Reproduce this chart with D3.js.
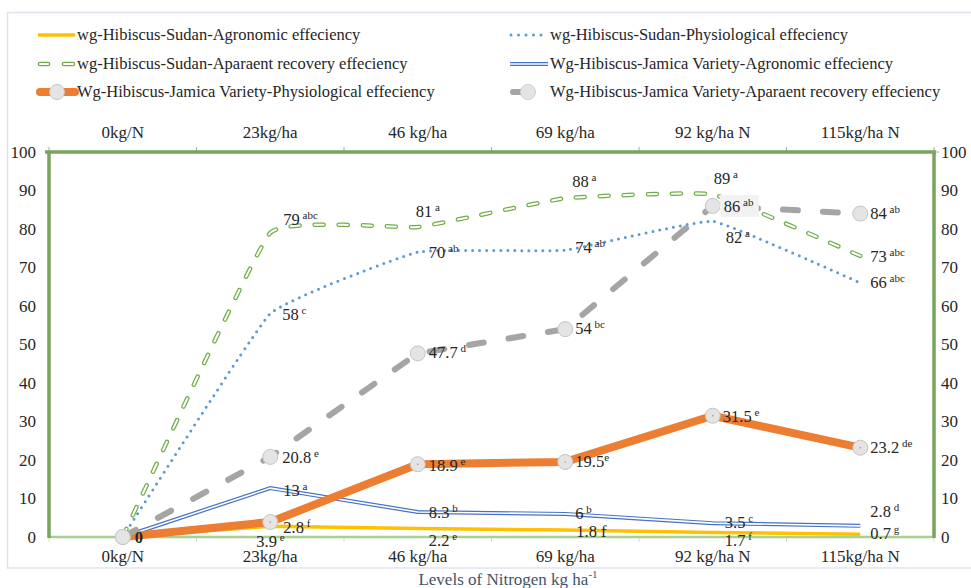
<!DOCTYPE html>
<html><head><meta charset="utf-8">
<script src="https://cdn.jsdelivr.net/npm/d3@7/dist/d3.min.js"></script>
<style>
html,body{margin:0;padding:0;background:#fff;}
svg{display:block;}
svg text{font-family:"Liberation Serif","DejaVu Serif",serif;}
</style></head>
<body>
<svg id="chart" width="971" height="588"></svg>
<script>
// ---------- DATA ----------
const categories = ["0kg/N", "23kg/ha", "46 kg/ha", "69 kg/ha", "92 kg/ha N", "115kg/ha N"];
const yTicks = [0, 10, 20, 30, 40, 50, 60, 70, 80, 90, 100];

const sudanAgronomic      = [0, 2.8, 2.2, 1.8, 1.2, 0.7];
const sudanPhysiological  = [0, 58, 74, 74.5, 82, 66];
const sudanRecovery       = [0, 79, 80.5, 88, 89, 73];
const jamicaAgronomic     = [0, 12.7, 6.5, 6, 3.6, 2.9];
const jamicaPhysiological = [0, 3.9, 18.9, 19.5, 31.5, 23.2];
const jamicaRecovery      = [0, 20.8, 47.7, 54, 86, 84];

// data labels: [number, letters]
const sudanAgronomicLabels      = [null, ["2.8","f"], ["2.2","e"], ["1.8 f",""], ["1.7","f"], ["0.7","g"]];
const sudanPhysiologicalLabels  = [null, ["58","c"], ["70","ab"], ["74","ab"], ["82","a"], ["66","abc"]];
const sudanRecoveryLabels       = [null, ["79","abc"], ["81","a"], ["88","a"], ["89","a"], ["73","abc"]];
const jamicaAgronomicLabels     = [null, ["13","a"], ["8.3","b"], ["6","b"], ["3.5","c"], ["2.8","d"]];
const jamicaPhysiologicalLabels = [["0",""], ["3.9","e"], ["18.9","e"], ["19.5","e"], ["31.5","e"], ["23.2","de"]];
const jamicaRecoveryLabels      = [null, ["20.8","e"], ["47.7","d"], ["54","bc"], ["86","ab"], ["84","ab"]];

const seriesNames = [
  "wg-Hibiscus-Sudan-Agronomic effeciency",
  "wg-Hibiscus-Sudan-Physiological effeciency",
  "wg-Hibiscus-Sudan-Aparaent recovery effeciency",
  "Wg-Hibiscus-Jamica Variety-Agronomic effeciency",
  "Wg-Hibiscus-Jamica Variety-Physiological effeciency",
  "Wg-Hibiscus-Jamica Variety-Aparaent recovery effeciency"
];
const xTitle = "Levels of Nitrogen kg ha";

// ---------- LAYOUT / STYLE ----------
const FONT = '"Liberation Serif","DejaVu Serif",serif';
const svg = d3.select("#chart");
const P = {left: 49, right: 934, top: 152, bottom: 537};
const x = d3.scaleBand().domain(categories).range([P.left, P.right]);
const cx = c => x(c) + x.bandwidth() / 2;
const y = d3.scaleLinear().domain([0, 100]).range([P.bottom, P.top]);
const axisGreen = "#77a55a";
const textCol = "#262626";

// chart-area border
svg.append("rect").attr("x", 7.5).attr("y", 12.5).attr("width", 990).attr("height", 555.5)
  .attr("fill", "none").attr("stroke", "#dfe4ec").attr("stroke-width", 1.5);

function styleAxis(g) {
  g.attr("font-family", FONT);
  g.select(".domain").remove();
  g.selectAll("text").attr("font-size", 17).attr("fill", textCol).attr("font-family", FONT);
}
// bottom axis (categories)
svg.append("g").attr("transform", `translate(0,${P.bottom})`)
  .call(d3.axisBottom(x).tickSize(0).tickPadding(13)).call(styleAxis);
svg.append("g").selectAll("line").data(d3.range(categories.length + 1)).join("line")
  .attr("x1", i => P.left + i * x.bandwidth()).attr("x2", i => P.left + i * x.bandwidth())
  .attr("y1", P.bottom).attr("y2", P.bottom + 5).attr("stroke", "#d9d9d9").attr("stroke-width", 1);

// top axis (categories)
svg.append("g").attr("transform", `translate(0,${P.top})`)
  .call(d3.axisTop(x).tickSize(0).tickPadding(14)).call(styleAxis);
svg.append("g").selectAll("line").data(d3.range(categories.length + 1)).join("line")
  .attr("x1", i => P.left + i * x.bandwidth()).attr("x2", i => P.left + i * x.bandwidth())
  .attr("y1", P.top).attr("y2", P.top - 5).attr("stroke", "#a6a6a6").attr("stroke-width", 1);

// left / right axes
svg.append("g").attr("transform", `translate(${P.left},0)`)
  .call(d3.axisLeft(y).tickValues(yTicks).tickSize(0).tickPadding(13)).call(styleAxis);
svg.append("g").attr("transform", `translate(${P.right},0)`)
  .call(d3.axisRight(y).tickValues(yTicks).tickSize(0).tickPadding(7)).call(styleAxis);

// frame lines
svg.append("line").attr("x1", P.left).attr("x2", P.right).attr("y1", P.bottom).attr("y2", P.bottom)
  .attr("stroke", "#a9d08e").attr("stroke-width", 2.5);
svg.append("line").attr("x1", P.left - 4).attr("x2", P.right + 2).attr("y1", P.top).attr("y2", P.top)
  .attr("stroke", axisGreen).attr("stroke-width", 3.5);
svg.append("line").attr("x1", P.left).attr("x2", P.left).attr("y1", P.top).attr("y2", P.bottom + 1)
  .attr("stroke", axisGreen).attr("stroke-width", 3.5);
svg.append("line").attr("x1", P.right).attr("x2", P.right).attr("y1", P.top).attr("y2", P.bottom + 1)
  .attr("stroke", axisGreen).attr("stroke-width", 3.5);
svg.append("line").attr("x1", P.right).attr("x2", P.right + 5).attr("y1", P.top).attr("y2", P.top)
  .attr("stroke", "#a6a6a6").attr("stroke-width", 1);

// x title
const xt = svg.append("text").attr("x", 508).attr("y", 584.5).attr("text-anchor", "middle")
  .attr("font-size", 17).attr("fill", "#44546a").text(xTitle);
xt.append("tspan").attr("font-size", 11).attr("dy", -7).text("-1");

// ---------- SERIES ----------
const pts = vals => vals.map((v, i) => [cx(categories[i]), y(v)]);
const lineLin = d3.line();
const lineSmooth = d3.line().curve(d3.curveCardinal.tension(0.7));
const gS = svg.append("g");

// 1 Sudan agronomic (yellow)
gS.append("path").attr("d", lineLin(pts(sudanAgronomic))).attr("fill", "none")
  .attr("stroke", "#ffc000").attr("stroke-width", 3.5).attr("stroke-linejoin", "round");
// 2 Sudan physiological (blue dotted, smoothed)
gS.append("path").attr("d", lineSmooth(pts(sudanPhysiological))).attr("fill", "none")
  .attr("stroke", "#5b9bd5").attr("stroke-width", 3).attr("stroke-linecap", "round")
  .attr("stroke-dasharray", "0 7");
// 3 Sudan recovery (green hollow dashes, smoothed)
const dRec = lineSmooth(pts(sudanRecovery));
gS.append("path").attr("d", dRec).attr("fill", "none").attr("stroke", "#70ad47")
  .attr("stroke-width", 4.5).attr("stroke-linecap", "round").attr("stroke-dasharray", "9 15");
gS.append("path").attr("d", dRec).attr("fill", "none").attr("stroke", "#ffffff")
  .attr("stroke-width", 2).attr("stroke-linecap", "round").attr("stroke-dasharray", "9 15");
// 4 Jamica agronomic (blue double line)
const dJA = lineLin(pts(jamicaAgronomic));
gS.append("path").attr("d", dJA).attr("fill", "none").attr("stroke", "#4472c4").attr("stroke-width", 4);
gS.append("path").attr("d", dJA).attr("fill", "none").attr("stroke", "#ffffff").attr("stroke-width", 1.6);
// 5 Jamica physiological (orange thick + markers)
gS.append("path").attr("d", lineLin(pts(jamicaPhysiological))).attr("fill", "none")
  .attr("stroke", "#ed7d31").attr("stroke-width", 8).attr("stroke-linejoin", "round");
// 6 Jamica recovery (grey long dashes + markers)
gS.append("path").attr("d", lineLin(pts(jamicaRecovery))).attr("fill", "none")
  .attr("stroke", "#a5a5a5").attr("stroke-width", 6).attr("stroke-linecap", "round")
  .attr("stroke-dasharray", "15 25");

function markers(vals, dotColor) {
  const g = gS.append("g");
  g.selectAll("circle.m").data(pts(vals)).join("circle").attr("class", "m")
    .attr("cx", d => d[0]).attr("cy", d => d[1]).attr("r", 7.5)
    .attr("fill", "#e4e4e4").attr("stroke", "#c4c4c4").attr("stroke-width", 1);
  if (dotColor) g.selectAll("circle.d").data(pts(vals)).join("circle").attr("class", "d")
    .attr("cx", d => d[0]).attr("cy", d => d[1]).attr("r", 0.8).attr("fill", dotColor);
}
markers(jamicaPhysiological, "#ed7d31");
markers(jamicaRecovery, null);

// ---------- DATA LABELS ----------
// label offsets (text start, baseline) relative to each point
const labelOffsets = {
  sRec:  [null, [13,-8], [-2,-10], [7,-11], [1,-10], [10,6]],
  sPhy:  [null, [12,6], [11,6], [10,3], [13,22], [10,5]],
  jAgr:  [null, [13,8], [11,6], [10,5], [12,5], [10,-9]],
  sAgr:  [null, [13,7], [11,17], [11,7], [12,14], [10,5]],
  jPhy:  [[12,6], [-14,25], [11,7], [10,5], [10,6], [10,5]],
  jRec:  [null, [12,6], [11,5], [10,5], [11,6], [10,5]]
};
const gLab = svg.append("g").attr("fill", textCol);
function labels(vals, labs, offs, opts = {}) {
  const P2 = pts(vals);
  labs.forEach((lab, i) => {
    if (!lab) return;
    const [dx, dy] = offs[i];
    const tx = P2[i][0] + dx, ty = P2[i][1] + dy;
    if (opts.box && opts.box[i]) {
      gLab.append("rect").attr("x", tx - 4).attr("y", ty - 17).attr("width", 39).attr("height", 22)
        .attr("fill", "#f2f2f2");
    }
    const t = gLab.append("text").attr("x", tx).attr("y", ty).attr("font-size", 16.5);
    t.append("tspan").text(lab[0]).attr("font-weight", (opts.bold && opts.bold[i]) ? "bold" : null);
    if (lab[1]) {
      const sp = (opts.nospace && opts.nospace[i]) ? "" : " ";
      t.append("tspan").attr("font-size", 11).attr("dy", -6).text(sp + lab[1]);
    }
  });
}
labels(sudanAgronomic, sudanAgronomicLabels, labelOffsets.sAgr);
labels(sudanPhysiological, sudanPhysiologicalLabels, labelOffsets.sPhy);
labels(sudanRecovery, sudanRecoveryLabels, labelOffsets.sRec);
labels(jamicaAgronomic, jamicaAgronomicLabels, labelOffsets.jAgr);
labels(jamicaPhysiological, jamicaPhysiologicalLabels, labelOffsets.jPhy,
  {bold: [true], nospace: [false, false, false, true]});
labels(jamicaRecovery, jamicaRecoveryLabels, labelOffsets.jRec, {box: [false, false, false, false, true]});

// ---------- LEGEND ----------
const gLeg = svg.append("g");
const legRows = [35, 64, 92];
const legTextX = [77, 550];
function legText(col, row, txt) {
  gLeg.append("text").attr("x", legTextX[col]).attr("y", legRows[row] + 5)
    .attr("font-size", 16.5).attr("fill", textCol).text(txt);
}
gLeg.append("line").attr("x1", 38).attr("x2", 75).attr("y1", legRows[0]).attr("y2", legRows[0])
  .attr("stroke", "#ffc000").attr("stroke-width", 3.5);
legText(0, 0, seriesNames[0]);
gLeg.append("line").attr("x1", 511).attr("x2", 543).attr("y1", legRows[0]).attr("y2", legRows[0])
  .attr("stroke", "#5b9bd5").attr("stroke-width", 3).attr("stroke-linecap", "round").attr("stroke-dasharray", "0 7.5");
legText(1, 0, seriesNames[1]);
[[40, 48], [64, 73]].forEach(([a, b]) => {
  gLeg.append("line").attr("x1", a).attr("x2", b).attr("y1", legRows[1]).attr("y2", legRows[1])
    .attr("stroke", "#70ad47").attr("stroke-width", 4.5).attr("stroke-linecap", "round");
  gLeg.append("line").attr("x1", a).attr("x2", b).attr("y1", legRows[1]).attr("y2", legRows[1])
    .attr("stroke", "#fff").attr("stroke-width", 2).attr("stroke-linecap", "round");
});
legText(0, 1, seriesNames[2]);
gLeg.append("line").attr("x1", 510).attr("x2", 548).attr("y1", legRows[1]).attr("y2", legRows[1])
  .attr("stroke", "#4472c4").attr("stroke-width", 4);
gLeg.append("line").attr("x1", 510).attr("x2", 548).attr("y1", legRows[1]).attr("y2", legRows[1])
  .attr("stroke", "#fff").attr("stroke-width", 1.6);
legText(1, 1, seriesNames[3]);
gLeg.append("line").attr("x1", 40).attr("x2", 75).attr("y1", legRows[2]).attr("y2", legRows[2])
  .attr("stroke", "#ed7d31").attr("stroke-width", 8).attr("stroke-linecap", "round");
gLeg.append("circle").attr("cx", 57).attr("cy", legRows[2]).attr("r", 7.5)
  .attr("fill", "#e4e4e4").attr("stroke", "#c4c4c4");
legText(0, 2, seriesNames[4]);
gLeg.append("line").attr("x1", 513).attr("x2", 527).attr("y1", legRows[2]).attr("y2", legRows[2])
  .attr("stroke", "#a5a5a5").attr("stroke-width", 6).attr("stroke-linecap", "round");
gLeg.append("circle").attr("cx", 528).attr("cy", legRows[2]).attr("r", 7.5)
  .attr("fill", "#e4e4e4").attr("stroke", "#d0d0d0");
legText(1, 2, seriesNames[5]);
</script>
</body></html>
